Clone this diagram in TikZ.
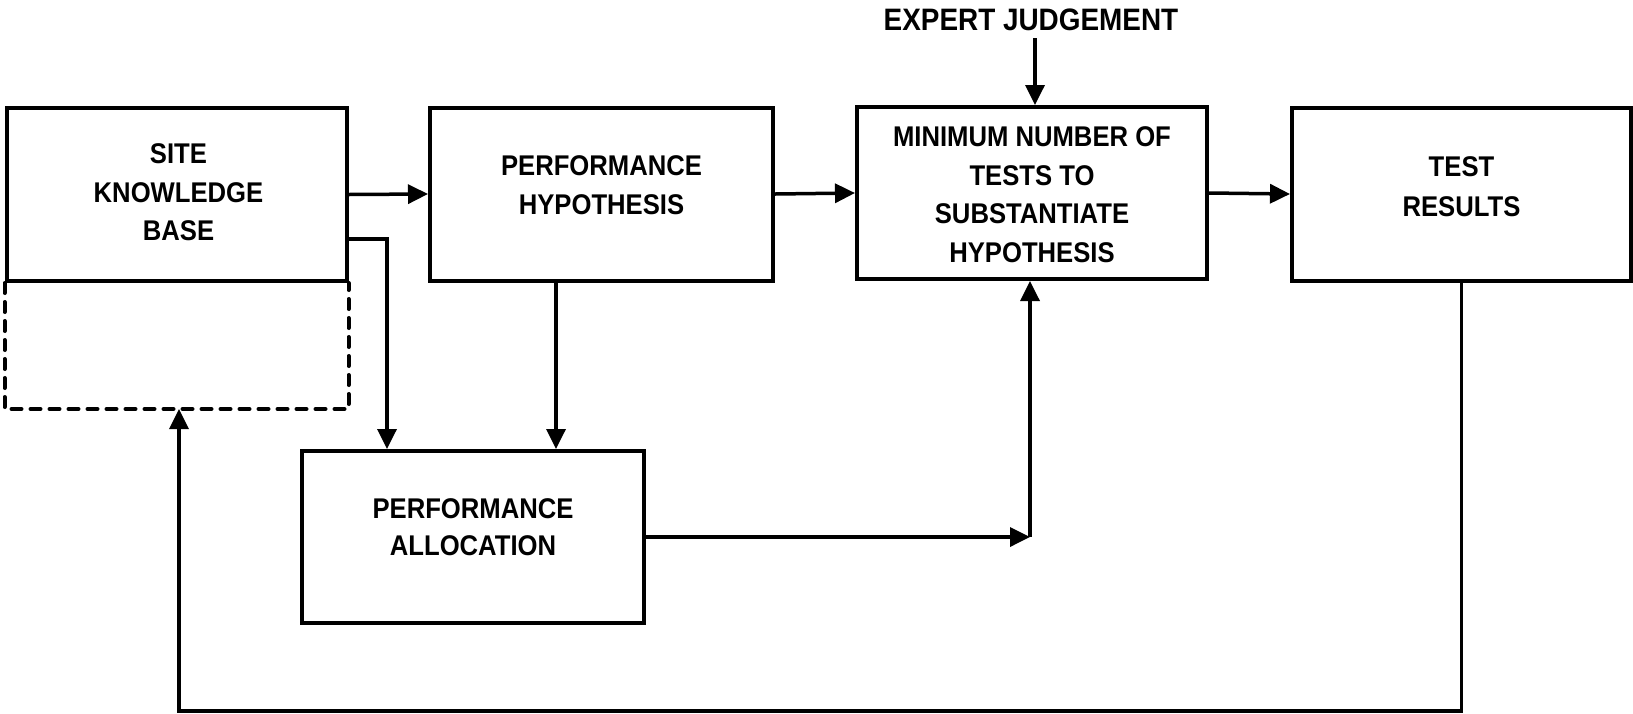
\documentclass[tikz,border=0pt]{standalone}
\usepackage{fontspec}
\setmainfont{Liberation Sans}[FakeStretch=0.9]
\usetikzlibrary{arrows.meta}
\begin{document}
\begin{tikzpicture}[x=1pt,y=-1pt,
  box/.style={draw, line width=4pt, minimum width=#1, minimum height=173pt, inner sep=0pt},
  lbl/.style={font=\fontsize{28.5}{38.5}\selectfont\bfseries, align=center, inner sep=0pt},
  conn/.style={line width=3.5pt},
  arr/.style={conn, -{Triangle[length=20pt,width=19pt]}},
  dashbox/.style={line width=4pt, dash pattern=on 10pt off 9pt, line cap=round}]
\useasboundingbox (0,0) rectangle (1633,713);

% boxes
\node[box=340pt] (site) at (176.5,194.5) {};
\node[lbl] (sitetext) at ([xshift=2pt,yshift=2pt]site.center) {SITE\\KNOWLEDGE\\BASE};

\node[box=343pt] (hyp) at (601.5,194) {};
\node[lbl] (hyptext) at ([yshift=9pt]hyp.center) {PERFORMANCE\\HYPOTHESIS};

\node[box=350pt, minimum height=172pt] (min) at (1032,193) {};
\node[lbl] (mintext) at ([yshift=-1.5pt]min.center) {MINIMUM NUMBER OF\\TESTS TO\\SUBSTANTIATE\\HYPOTHESIS};

\node[box=339pt] (test) at (1461.5,194) {};
\node[lbl, font=\fontsize{28.5}{40}\selectfont\bfseries] (testtext) at ([yshift=7pt]test.center) {TEST\\RESULTS};

\node[box=342pt, minimum height=172pt] (pa) at (473,537) {};
\node[lbl, font=\fontsize{28.5}{37}\selectfont\bfseries] (patext) at ([yshift=10pt]pa.center) {PERFORMANCE\\ALLOCATION};

\node[lbl, font=\fontsize{31}{35}\selectfont\bfseries] (expert) at (1031,20) {EXPERT JUDGEMENT};

% dashed extension under the knowledge base
\coordinate (dashbot) at (179,409);
\draw[dashbox] (site.south west) |- (dashbot) -| (site.south east);

% connectors
\draw[arr] (site.east) -- (hyp.west);
\coordinate (s2) at (387,239);
\draw[arr] (site.east |- s2) -- (s2) -- (s2 |- pa.north);
\coordinate (h2) at (556,0);
\draw[arr] (hyp.south -| h2) -- (pa.north -| h2);
\draw[arr] (hyp.east) -- (min.west);
\draw[arr] (min.east) -- (test.west);
\coordinate (e1) at (1035,0);
\draw[arr] (expert.south -| e1) ++(0,7) -- (min.north -| e1);
\coordinate (j) at (1030,537);
\draw[arr] (pa.east |- j) -- (j);
\draw[arr] (j) -- (j |- min.south);
\coordinate (fb) at (179,711);
\draw[arr] (test.south) |- (fb) -- (dashbot);
\end{tikzpicture}
\end{document}
